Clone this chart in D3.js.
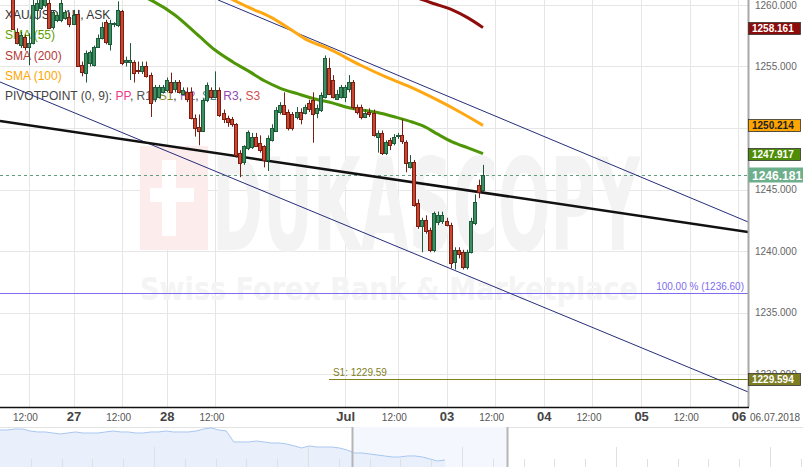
<!DOCTYPE html>
<html>
<head>
<meta charset="utf-8">
<script src="https://cdn.jsdelivr.net/npm/d3@7"></script>
<style>
body { margin: 0; background: #fff; }
svg { display: block; font-family: "Liberation Sans", Arial, sans-serif; }
</style>
</head>
<body>
<svg id="chart" width="803" height="467"></svg>
<script>
// hourly candles, XAU/USD 1H ask (index 0 = first visible candle)
var opens  = [1260.6,1257.8,1256.8,1257.4,1256.6,1256.9,1259.6,1259.8,1260.0,1260.2,1258.2,1258.8,1258.8,1258.9,1259.0,1258.5,1259.3,1255.1,1254.5,1255.3,
              1255.1,1256.6,1257.3,1258.6,1256.8,1258.4,1258.4,1259.5,1255.3,1255.3,1255.4,1254.7,1254.6,1255.0,1254.3,1252.3,1252.5,1252.9,1253.1,1253.7,
              1253.1,1253.7,1252.8,1252.9,1252.9,1250.8,1250.1,1249.8,1252.3,1253.1,1252.5,1253.1,1251.2,1250.8,1250.7,1250.3,1248.0,1247.2,1248.4,1248.5,
              1249.3,1248.8,1248.5,1247.4,1249.0,1249.8,1251.3,1251.9,1251.3,1251.1,1250.9,1251.3,1251.2,1252.0,1252.3,1251.2,1251.5,1252.5,1254.9,1253.9,
              1252.4,1252.5,1252.5,1253.1,1253.7,1251.7,1251.7,1250.9,1251.3,1251.2,1249.3,1249.6,1248.0,1249.0,1248.8,1249.3,1249.4,1248.9,1246.8,1247.2,
              1243.9,1242.0,1242.5,1241.7,1240.1,1242.3,1242.4,1242.4,1242.1,1239.1,1240.1,1239.9,1238.7,1239.9,1242.3,1245.4,1245.0];
var highs  = [1260.9,1258.1,1257.8,1257.6,1257.7,1260.4,1260.4,1261.0,1261.0,1260.6,1259.6,1259.4,1260.6,1259.6,1259.4,1259.6,1259.6,1255.4,1256.3,1256.3,
              1256.7,1257.6,1258.6,1258.8,1258.8,1258.6,1260.3,1259.6,1255.8,1256.9,1255.5,1255.4,1255.4,1255.4,1254.5,1253.5,1253.5,1253.5,1254.1,1254.5,
              1253.9,1253.9,1253.3,1253.3,1253.3,1251.1,1251.1,1252.4,1253.7,1253.3,1254.6,1253.3,1251.5,1251.0,1250.9,1250.4,1248.2,1248.6,1249.8,1249.6,
              1249.6,1249.4,1248.6,1249.4,1250.3,1251.7,1252.1,1252.9,1251.5,1251.3,1251.7,1251.6,1251.9,1252.3,1252.9,1251.9,1252.9,1255.9,1255.7,1254.3,
              1253.1,1253.5,1253.5,1254.3,1253.9,1251.9,1251.9,1251.5,1251.6,1251.5,1249.8,1249.8,1249.0,1249.2,1249.5,1249.6,1250.7,1249.0,1247.8,1247.4,
              1244.2,1242.7,1242.9,1241.9,1243.2,1243.2,1243.2,1242.7,1242.3,1240.3,1240.3,1240.1,1240.1,1242.7,1244.6,1245.8,1247.0];
var lows   = [1258.0,1256.8,1256.5,1256.3,1255.1,1256.8,1258.8,1259.6,1259.8,1258.1,1258.0,1258.6,1258.6,1258.8,1258.2,1258.4,1255.0,1254.2,1253.7,1255.0,
              1255.0,1256.5,1257.2,1256.8,1256.3,1258.2,1258.2,1255.1,1255.0,1253.9,1253.7,1254.4,1254.4,1254.1,1250.9,1252.1,1252.4,1252.8,1252.9,1252.8,
              1252.9,1252.8,1252.7,1252.1,1250.7,1249.3,1248.6,1249.7,1252.1,1252.4,1252.4,1250.9,1250.4,1250.1,1250.1,1247.6,1246.0,1247.0,1248.2,1248.3,
              1248.5,1248.0,1246.8,1246.5,1248.9,1249.7,1251.1,1251.1,1249.8,1249.8,1250.7,1250.3,1251.1,1251.3,1248.8,1250.8,1251.3,1252.4,1252.7,1252.4,
              1252.3,1252.4,1252.1,1252.9,1251.5,1251.1,1250.7,1250.8,1250.9,1249.3,1248.0,1247.8,1247.8,1248.2,1248.6,1249.1,1248.7,1246.4,1246.7,1243.6,
              1241.8,1239.9,1241.4,1239.9,1239.9,1242.1,1242.2,1242.0,1238.6,1238.5,1239.4,1238.5,1238.5,1239.8,1242.1,1244.3,1244.8];
var closes = [1258.1,1256.9,1257.6,1256.6,1256.9,1260.0,1260.2,1260.6,1260.6,1258.2,1259.4,1259.2,1260.2,1259.4,1258.4,1259.2,1255.1,1254.5,1256.1,1256.2,
              1256.6,1257.3,1258.2,1257.0,1258.5,1258.5,1259.6,1255.3,1255.5,1255.5,1254.5,1254.6,1255.0,1254.2,1252.0,1253.3,1253.3,1253.3,1253.9,1252.9,
              1253.7,1252.9,1253.1,1252.3,1250.8,1250.0,1249.8,1252.3,1253.5,1252.5,1253.1,1251.1,1250.7,1250.5,1250.3,1247.8,1247.2,1248.5,1249.7,1249.3,
              1248.6,1248.2,1247.4,1249.2,1250.0,1251.5,1251.9,1251.2,1250.0,1250.0,1251.3,1250.7,1251.7,1251.5,1251.2,1251.6,1252.7,1255.7,1252.8,1252.5,
              1252.8,1253.3,1253.3,1253.7,1251.7,1251.3,1250.9,1251.2,1251.1,1249.4,1249.6,1248.0,1248.9,1248.6,1249.3,1249.4,1248.9,1247.2,1247.2,1243.7,
              1242.0,1242.5,1241.6,1240.1,1243.1,1242.9,1242.9,1242.1,1239.0,1240.1,1239.8,1238.7,1239.9,1242.4,1244.0,1244.8,1246.181];

// moving averages (candle index, value)
var sma55Idx  = [28.9, 40.0, 46.2, 49.9, 54.3, 58.5, 62.2, 65.9, 70.4, 74.6, 78.8, 83.2, 89.4, 94.3, 98.5, 101.7, 104.7, 108.4, 112.3, 116];
var sma55     = [1261.2, 1259.19, 1257.40, 1256.34, 1255.37, 1254.56, 1253.82, 1253.25, 1252.77, 1252.36, 1252.04, 1251.63, 1251.30, 1250.90, 1250.49, 1250.09, 1249.52, 1248.87, 1248.38, 1247.917];
var sma100Idx = [52.4, 58.5, 63.5, 68.4, 72.6, 77.5, 85.7, 92.6, 98.0, 104.7, 110.3, 116];
var sma100    = [1260.74, 1259.76, 1259.03, 1258.05, 1257.16, 1256.51, 1255.12, 1254.07, 1253.34, 1252.28, 1251.30, 1250.214];
var sma200Idx = [99.3, 101.2, 104.2, 108.4, 112.3, 116];
var sma200    = [1260.65, 1260.41, 1260.08, 1259.60, 1258.95, 1258.161];

// drawn trend lines (candle index, price)
var channelUpper = [[50.65, 1260.41], [181.4, 1242.36]];
var channelLower = [[-3.13, 1253.74], [181.4, 1228.54]];
var trendBlack   = [[-3.13, 1250.57], [181.4, 1241.55]];

var fiboLevel = 1236.60;
var s1Level = 1229.594, s1Start = 78;
var lastPrice = 1246.181;

var priceTicks = [1230, 1235, 1240, 1245, 1250, 1255, 1260];
var timeSlots  = [4, 15, 27, 38, 50, 82, 95, 107, 119, 131, 143, 155, 167, 179];
var timeLabels = ["12:00", "27", "12:00", "28", "12:00", "Jul", "12:00", "03", "12:00", "04", "12:00", "05", "12:00", "06"];

// navigator overview
var navValues = [1276.3,1276.3,1277.5,1277.5,1275.0,1273.8,1273.8,1272.5,1271.3,1272.5,1273.8,1272.5,1272.5,1272.5,1273.8,1275.0,1273.8,1273.8,1272.5,1272.5,
                 1273.8,1273.8,1275.0,1273.8,1273.8,1273.8,1275.0,1277.5,1278.8,1276.3,1275.0,1261.3,1261.3,1261.3,1262.5,1261.3,1260.0,1260.0,1258.8,1256.3,
                 1253.8,1256.3,1255.0,1255.0,1255.0,1253.8,1251.3,1247.5,1247.5,1246.3,1245.0,1243.8,1242.5,1242.5,1243.8,1243.8,1242.5,1240.0,1237.5,1238.8];
var navWindow = [46.7, 67.2];

var svg = d3.select("svg#chart"),
    plotW = 748,
    plotH = 407;

var x = d3.scaleLinear().domain([0, 116]).range([12.7, 483]);
var y = d3.scaleLinear().domain([1230, 1260]).range([374, 5]);

svg.append("defs").append("clipPath").attr("id", "plot")
    .append("rect").attr("width", plotW).attr("height", plotH);

var g = svg.append("g").attr("clip-path", "url(#plot)");

// grid
g.selectAll(".hgrid")
    .data(priceTicks)
    .enter().append("line")
    .attr("x1", 0).attr("x2", plotW)
    .attr("y1", function (d) { return Math.round(y(d)) + 0.5; })
    .attr("y2", function (d) { return Math.round(y(d)) + 0.5; })
    .attr("stroke", "#e6e6e6");

g.selectAll(".vgrid")
    .data(timeSlots)
    .enter().append("line")
    .attr("x1", function (d) { return Math.round(x(d)) + 0.5; })
    .attr("x2", function (d) { return Math.round(x(d)) + 0.5; })
    .attr("y1", 0).attr("y2", plotH)
    .attr("stroke", "#e6e6e6");

// watermark
g.append("rect").attr("x", 140).attr("y", 146).attr("width", 68).attr("height", 104).attr("fill", "#fcecec");
g.append("rect").attr("x", 162).attr("y", 160).attr("width", 14).attr("height", 76).attr("fill", "#fff");
g.append("rect").attr("x", 150).attr("y", 188).attr("width", 44).attr("height", 14).attr("fill", "#fff");
g.append("text")
    .attr("x", 212).attr("y", 250)
    .attr("textLength", 428).attr("lengthAdjust", "spacingAndGlyphs")
    .style("font", "bold 128px 'DejaVu Sans'")
    .attr("fill", "#f3f3f3")
    .text("DUKASCOPY");
g.append("text")
    .attr("x", 140).attr("y", 300)
    .attr("textLength", 498).attr("lengthAdjust", "spacingAndGlyphs")
    .style("font", "bold 32px 'DejaVu Sans'")
    .attr("fill", "#f4f4f4")
    .text("Swiss Forex Bank & Marketplace");

// legend (candles are drawn over it)
var legend = g.append("g").style("font", "12px 'Liberation Sans', Arial");
legend.append("text").attr("x", 5).attr("y", 19).attr("fill", "#333").text("XAU/USD, 1H, ASK");
legend.append("text").attr("x", 5).attr("y", 39).attr("fill", "#5ba000").text("SMA (55)");
legend.append("text").attr("x", 5).attr("y", 60).attr("fill", "#b33a3a").text("SMA (200)");
legend.append("text").attr("x", 5).attr("y", 80).attr("fill", "#ffa500").text("SMA (100)");
var piv = legend.append("text").attr("x", 5).attr("y", 100).attr("fill", "#444");
var pivParts = [["PIVOTPOINT (0, 9): ", "#444"], ["PP", "#ef3b8c"], [", ", "#444"], ["R1", "#555"], [", ", "#444"],
                ["S1", "#8a8a2a"], [", ", "#444"], ["R2", "#9b6bc9"], [", ", "#444"], ["S2", "#3a8a9a"], [", ", "#444"],
                ["R3", "#8e4ab0"], [", ", "#444"], ["S3", "#d05050"]];
pivParts.forEach(function (p) { piv.append("tspan").attr("fill", p[1]).text(p[0]); });

// horizontal levels
g.append("line")
    .attr("x1", 0).attr("x2", plotW)
    .attr("y1", Math.round(y(fiboLevel)) + 0.5).attr("y2", Math.round(y(fiboLevel)) + 0.5)
    .attr("stroke", "#7d6cf0");
g.append("text")
    .attr("x", 744).attr("y", y(fiboLevel) - 3)
    .attr("text-anchor", "end")
    .style("font", "10px 'Liberation Sans', Arial")
    .attr("fill", "#7d6cf0")
    .text("100.00 % (" + fiboLevel.toFixed(2) + ")");

g.append("line")
    .attr("x1", x(s1Start)).attr("x2", plotW)
    .attr("y1", Math.round(y(s1Level)) + 0.5).attr("y2", Math.round(y(s1Level)) + 0.5)
    .attr("stroke", "#7f7f1f");
g.append("text")
    .attr("x", x(s1Start) + 4).attr("y", y(s1Level) - 3)
    .style("font", "10px 'Liberation Sans', Arial")
    .attr("fill", "#7f7f1f")
    .text("S1: " + s1Level.toFixed(2));

g.append("line")
    .attr("x1", 0).attr("x2", plotW)
    .attr("y1", Math.round(y(lastPrice)) + 0.5).attr("y2", Math.round(y(lastPrice)) + 0.5)
    .attr("stroke", "#5e9e7e")
    .attr("stroke-dasharray", "3,3");

// trend lines
var seg = d3.line().x(function (d) { return x(d[0]); }).y(function (d) { return y(d[1]); });
g.append("path").attr("d", seg(channelUpper)).attr("fill", "none").attr("stroke", "#262d7a").attr("stroke-width", 1);
g.append("path").attr("d", seg(channelLower)).attr("fill", "none").attr("stroke", "#262d7a").attr("stroke-width", 1);
g.append("path").attr("d", seg(trendBlack)).attr("fill", "none").attr("stroke", "#111").attr("stroke-width", 2.5);

// moving averages
var curve = d3.line()
    .x(function (d) { return x(d[0]); })
    .y(function (d) { return y(d[1]); })
    .curve(d3.curveMonotoneX);
function pairs(idx, vals) { return idx.map(function (d, i) { return [d, vals[i]]; }); }

g.append("path").attr("d", curve(pairs(sma200Idx, sma200))).attr("fill", "none").attr("stroke", "#8e0c0c").attr("stroke-width", 3);
g.append("path").attr("d", curve(pairs(sma100Idx, sma100))).attr("fill", "none").attr("stroke", "#ffa812").attr("stroke-width", 3);
g.append("path").attr("d", curve(pairs(sma55Idx, sma55))).attr("fill", "none").attr("stroke", "#4f9606").attr("stroke-width", 3);

// candles
var candles = opens.map(function (o, i) {
    return { i: i, o: o, h: highs[i], l: lows[i], c: closes[i] };
});

var cg = g.selectAll(".candle")
    .data(candles)
    .enter().append("g")
    .attr("class", "candle");

cg.append("line")
    .attr("x1", function (d) { return Math.round(x(d.i)) + 0.5; })
    .attr("x2", function (d) { return Math.round(x(d.i)) + 0.5; })
    .attr("y1", function (d) { return y(d.h); })
    .attr("y2", function (d) { return y(d.l); })
    .attr("stroke", function (d) { return d.c >= d.o ? "#1d5a3a" : "#7a1d12"; });

cg.append("rect")
    .attr("x", function (d) { return Math.round(x(d.i)) - 1.5; })
    .attr("y", function (d) { return Math.round(y(Math.max(d.o, d.c))) + 0.5; })
    .attr("width", 3)
    .attr("height", function (d) { return Math.max(1, Math.round(Math.abs(y(d.o) - y(d.c)))); })
    .attr("fill", function (d) { return d.c >= d.o ? "#3d8f62" : "#cc4630"; })
    .attr("stroke", function (d) { return d.c >= d.o ? "#1d5a3a" : "#7a1d12"; });

// right price axis
svg.append("line")
    .attr("x1", plotW + 0.5).attr("x2", plotW + 0.5)
    .attr("y1", 0).attr("y2", plotH)
    .attr("stroke", "#a8a8a8").attr("stroke-width", 2);

var yAxis = svg.append("g")
    .attr("transform", "translate(" + (plotW + 7) + ",0)")
    .call(d3.axisRight(y).tickValues(priceTicks).tickFormat(d3.format(".3f")).tickSize(0));
yAxis.select(".domain").remove();
yAxis.selectAll("text")
    .attr("x", 0)
    .style("font", "10px 'Liberation Sans', Arial")
    .attr("fill", "#666");

var boxes = [
    { v: 1258.161, bg: "#8c0b0b", fg: "#fff", big: false },
    { v: 1250.214, bg: "#ffa500", fg: "#222", big: false },
    { v: 1247.917, bg: "#4e8d05", fg: "#fff", big: false },
    { v: lastPrice, bg: "#6dae8c", fg: "#fff", big: true },
    { v: s1Level, bg: "#7d7d22", fg: "#fff", big: false }
];
var bx = svg.selectAll(".pbox")
    .data(boxes)
    .enter().append("g")
    .attr("transform", function (d) { return "translate(" + plotW + "," + Math.round(y(d.v)) + ")"; });
bx.append("rect")
    .attr("x", 0.5)
    .attr("y", function (d) { return d.big ? -7.5 : -5.5; })
    .attr("width", function (d) { return d.big ? 55 : 52; })
    .attr("height", function (d) { return d.big ? 15 : 12; })
    .attr("fill", function (d) { return d.bg; })
    .attr("stroke", function (d) { return d.big ? "none" : "#333"; })
    .attr("stroke-width", 0.8);
bx.append("text")
    .attr("x", function (d) { return d.big ? 4 : 4; })
    .attr("y", function (d) { return d.big ? 4.5 : 4; })
    .style("font", function (d) { return d.big ? "bold 12px 'Liberation Sans', Arial" : "bold 10px 'Liberation Sans', Arial"; })
    .attr("fill", function (d) { return d.fg; })
    .text(function (d) { return d.v.toFixed(3); });

// time axis
svg.append("line")
    .attr("x1", 0).attr("x2", plotW + 1)
    .attr("y1", plotH + 0.5).attr("y2", plotH + 0.5)
    .attr("stroke", "#111").attr("stroke-width", 1.5);

var xAxis = svg.append("g")
    .attr("transform", "translate(0," + plotH + ")")
    .call(d3.axisBottom(x).tickValues(timeSlots).tickSize(0)
        .tickFormat(function (d, i) { return timeLabels[i]; }));
xAxis.select(".domain").remove();
xAxis.selectAll("text")
    .attr("y", function (d, i) { return timeLabels[i] === "12:00" ? 7 : 5; })
    .attr("dx", function (d, i) { return timeLabels[i] === "12:00" ? -4 : 0; })
    .style("font", function (d, i) {
        return timeLabels[i] === "12:00" ? "10px 'Liberation Sans', Arial" : "bold 13px 'Liberation Sans', Arial";
    })
    .attr("fill", function (d, i) { return timeLabels[i] === "12:00" ? "#555" : "#444"; });

svg.append("text")
    .attr("x", 750).attr("y", 421)
    .style("font", "10px 'Liberation Sans', Arial")
    .attr("fill", "#555")
    .text("06.07.2018");

// navigator
var navTop = 427, navBottom = 467;
var nx = d3.scaleLinear().domain([0, navValues.length - 1]).range([0, 445]);
var ny = d3.scaleLinear().domain([1230, 1280]).range([navBottom, navTop]);

svg.append("line")
    .attr("x1", 0).attr("x2", 803)
    .attr("y1", navTop + 0.5).attr("y2", navTop + 0.5)
    .attr("stroke", "#e3e3e3");

svg.append("rect")
    .attr("x", nx(navWindow[0])).attr("y", navTop)
    .attr("width", nx(navWindow[1]) - nx(navWindow[0])).attr("height", navBottom - navTop)
    .attr("fill", "#f4f8fe");

svg.append("path")
    .datum(navValues)
    .attr("d", d3.area().x(function (d, i) { return nx(i); }).y0(navBottom).y1(function (d) { return ny(d); }))
    .attr("fill", "#e9f0fc");

svg.selectAll(".navtick")
    .data(d3.range(1, 27))
    .enter().append("line")
    .attr("x1", function (d) { return Math.round(d * 30.8) + 0.5; })
    .attr("x2", function (d) { return Math.round(d * 30.8) + 0.5; })
    .attr("y1", function (d) { return d % 5 === 0 ? 447 : 459; })
    .attr("y2", navBottom)
    .attr("stroke", "#e0e0e0");

svg.append("path")
    .datum(navValues)
    .attr("d", d3.line().x(function (d, i) { return nx(i); }).y(function (d) { return ny(d); }))
    .attr("fill", "none")
    .attr("stroke", "#a9c6f0");

svg.selectAll(".handle")
    .data(navWindow)
    .enter().append("line")
    .attr("x1", function (d) { return Math.round(nx(d)) + 0.5; })
    .attr("x2", function (d) { return Math.round(nx(d)) + 0.5; })
    .attr("y1", navTop).attr("y2", navBottom)
    .attr("stroke", "#b5b5b5").attr("stroke-width", 2);
</script>
</body>
</html>
